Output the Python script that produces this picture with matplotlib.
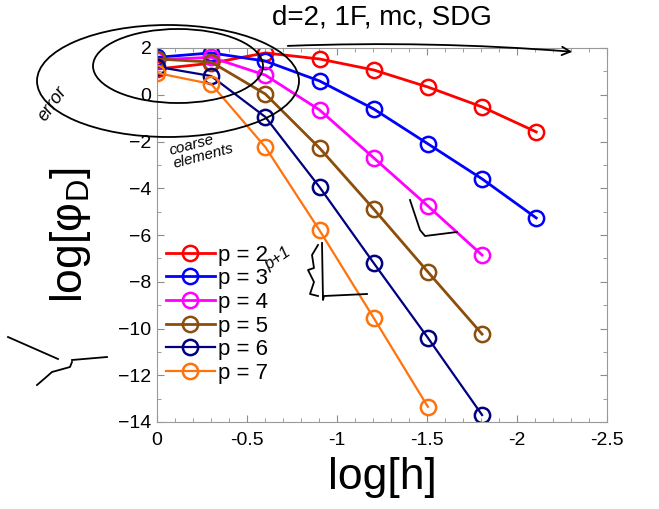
# -*- coding: utf8 -*-
"""Konvergensplot: log[phi_D] mot log[h] for p = 2..7."""
import matplotlib
matplotlib.use("Agg")
import matplotlib.pyplot as plt
from matplotlib.patches import Ellipse, FancyArrowPatch
from matplotlib.lines import Line2D

plt.rcParams["font.family"] = ["Liberation Sans", "DejaVu Sans"]
plt.rcParams["mathtext.fontset"] = "custom"
plt.rcParams["mathtext.rm"] = "Liberation Sans"

# log[h] for h = 1, 1/2, 1/4, ...
log_h = [0.0, -0.301, -0.602, -0.903, -1.204, -1.505, -1.806, -2.107]

err_p2 = [1.10, 1.35, 1.79, 1.53, 1.06, 0.33, -0.52, -1.59]
err_p3 = [1.60, 1.79, 1.44, 0.59, -0.61, -2.10, -3.60, -5.27]
err_p4 = [1.50, 1.60, 0.84, -0.65, -2.70, -4.76, -6.86]
err_p5 = [1.53, 1.40, 0.03, -2.28, -4.89, -7.58, -10.24]
err_p6 = [1.20, 0.80, -0.95, -3.95, -7.20, -10.40, -13.70]
err_p7 = [0.93, 0.46, -2.24, -5.80, -9.55, -13.35]

serier = [("p = 2", err_p2, (1, 0, 0), 2.0),
          ("p = 3", err_p3, (0, 0, 1), 2.0),
          ("p = 4", err_p4, (1, 0, 1), 2.0),
          ("p = 5", err_p5, (0.55, 0.3, 0.05), 2.0),
          ("p = 6", err_p6, (0, 0, 0.5), 1.6),
          ("p = 7", err_p7, (1, 0.45, 0.05), 1.6)]

W, H = 659, 509
fig = plt.figure(figsize=(W / 100, H / 100), dpi=100)
ax = fig.add_axes([157 / W, 1 - 422 / H, 450 / W, 374 / H])

for navn, err, farge, lw in serier:
    ax.plot(log_h[:len(err)], err, "-o", color=farge, lw=lw, ms=11,
            mfc="none", mew=1.8, label=navn)

ax.set_xlim(0, -2.5)
ax.set_ylim(-14, 2)
ax.set_xticks([0, -0.5, -1, -1.5, -2, -2.5])
ax.set_xticklabels(["0", "-0.5", "-1", "-1.5", "-2", "-2.5"])
ax.set_yticks(range(-14, 3, 2))
ax.set_xticks([-0.1 * i for i in range(26)], minor=True)
ax.set_yticks(range(-14, 3), minor=True)
ax.tick_params(which="both", direction="in", top=True, right=True,
               color=(0.55, 0.55, 0.55), labelsize=14)
ax.tick_params(axis="x", pad=7)
ax.tick_params(axis="y", pad=4)
ax.tick_params(which="major", length=5)
ax.tick_params(which="minor", length=3)
for s in ax.spines.values():
    s.set_color((0.6, 0.6, 0.6))

ax.set_title("d=2, 1F, mc, SDG", fontsize=20, pad=17)
ax.set_xlabel("log[h]", fontsize=32, labelpad=6)
ax.set_ylabel(r"log[φ$_{\rm D}$]", fontsize=32, labelpad=18)

ax.legend(loc="upper left", bbox_to_anchor=(-0.01, 0.51), frameon=False,
          fontsize=16, handlelength=2.2, handletextpad=0.15,
          labelspacing=0.12, borderaxespad=0.2)

# håndskrevne notater (omtrentlig)
def fx(px):
    return px / W

def fy(py):
    return 1 - py / H

ink = dict(fill=False, ec="k", lw=1.3, transform=fig.transFigure)
fig.patches.append(Ellipse((fx(168), fy(81)), 262 / W, 112 / H, **ink))
fig.patches.append(Ellipse((fx(178), fy(66)), 170 / W, 74 / H, **ink))
fig.patches.append(FancyArrowPatch((fx(285), fy(46)), (fx(575), fy(52)),
                                   transform=fig.transFigure,
                                   arrowstyle="->", mutation_scale=15,
                                   color="k", lw=1.3,
                                   connectionstyle="arc3,rad=-0.03"))


def strek(xs, ys):
    fig.lines.append(Line2D([fx(v) for v in xs], [fy(v) for v in ys],
                            transform=fig.transFigure, color="k", lw=1.3))


# stigningstrekanter
strek([322, 323, 324, 367], [243, 300, 296, 294])
strek([318, 312, 314, 308, 314, 310, 318], [245, 255, 268, 270, 282, 294, 296])
strek([410, 420, 425, 457], [200, 230, 236, 232])
# krusedull til venstre
strek([8, 58], [337, 359])
strek([72, 107], [360, 357])
strek([72, 70, 52, 44, 37], [362, 367, 372, 379, 385])

fig.text(fx(35), fy(120), "error", rotation=55, fontsize=13,
         style="italic", color="k")
fig.text(fx(168), fy(168), "coarse\nelements", rotation=15, fontsize=11,
         style="italic", color="k", linespacing=1.0)
fig.text(fx(262), fy(270), "p+1", rotation=35, fontsize=12,
         style="italic", color="k")

fig.savefig("out.png", dpi=100)
